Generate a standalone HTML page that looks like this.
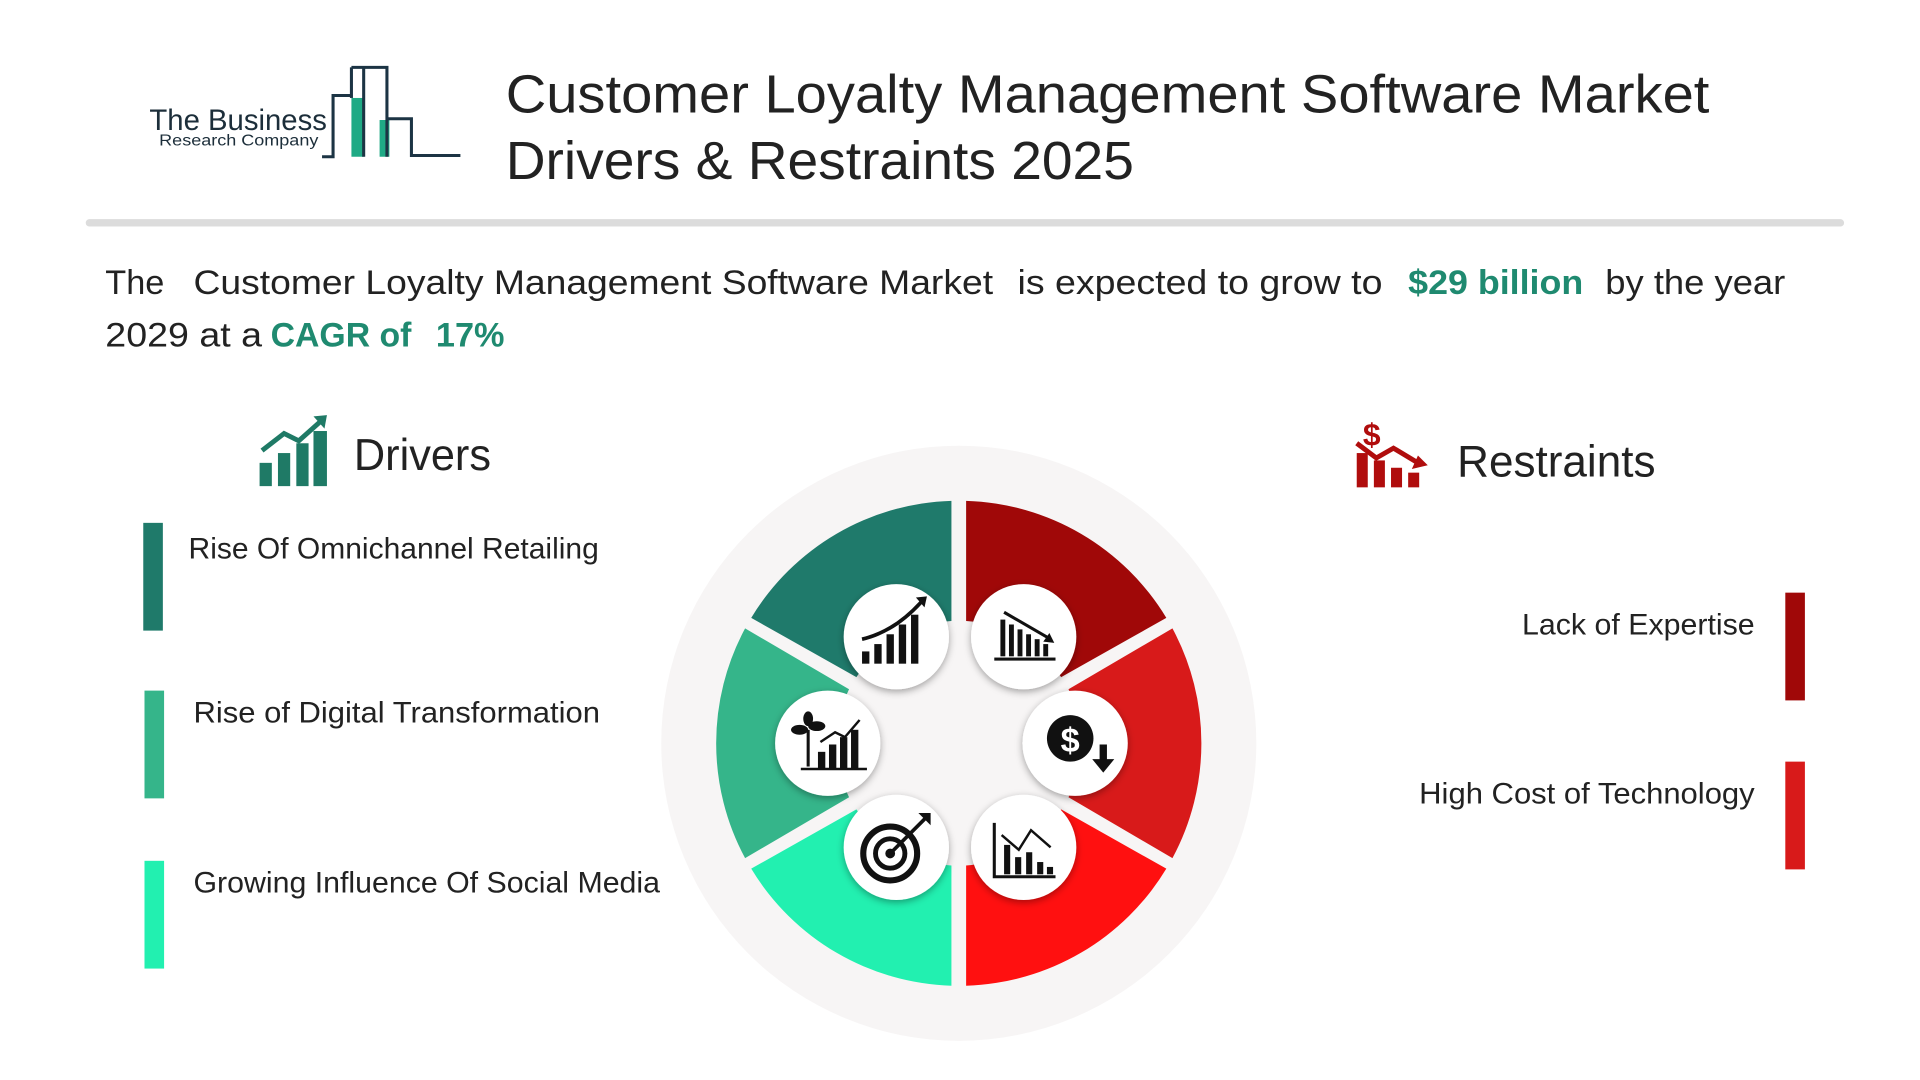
<!DOCTYPE html>
<html><head><meta charset="utf-8"><style>
html,body{margin:0;padding:0;background:#fff;width:1920px;height:1080px;overflow:hidden}
svg{display:block}
text{font-family:"Liberation Sans",Arial,sans-serif}
</style></head><body>
<svg width="1920" height="1080" viewBox="0 0 1568 882" xmlns="http://www.w3.org/2000/svg">
<defs>
<filter id="sh" x="-30%" y="-30%" width="160%" height="160%"><feDropShadow dx="0" dy="2" stdDeviation="3" flood-color="#000" flood-opacity="0.35"/></filter>
</defs>
<rect width="1568" height="882" fill="#fff"/>
<!-- logo -->
<text x="122" y="106" font-size="24" fill="#1c2e3a" textLength="145" lengthAdjust="spacingAndGlyphs">The Business</text>
<text x="130" y="119" font-size="12.5" fill="#1c2e3a" textLength="130" lengthAdjust="spacingAndGlyphs">Research Company</text>
<rect x="287" y="80" width="10" height="48" fill="#1faa85"/>
<rect x="310" y="98" width="8" height="30" fill="#1faa85"/>
<path d="M263 128 H272 V78 H287 M287 55 H316 V128 M297 55 V128 M316 97 H336 V127 H376" fill="none" stroke="#1c3444" stroke-width="2.5"/>
<path d="M287 55 V80" stroke="#1c3444" stroke-width="2.5"/>
<!-- title -->
<text x="413" y="92" font-size="44" fill="#222" textLength="983" lengthAdjust="spacingAndGlyphs">Customer Loyalty Management Software Market</text>
<text x="413" y="146" font-size="44" fill="#222" textLength="513" lengthAdjust="spacingAndGlyphs">Drivers &amp; Restraints 2025</text>
<rect x="70" y="179" width="1436" height="6" rx="3" fill="#dcdcdc"/>
<!-- paragraph -->
<text y="240" font-size="28" fill="#222"><tspan x="86">The</tspan></text>
<text x="158" y="240" font-size="28" fill="#222" textLength="653" lengthAdjust="spacingAndGlyphs">Customer Loyalty Management Software Market</text>
<text x="831" y="240" font-size="28" fill="#222" textLength="298" lengthAdjust="spacingAndGlyphs">is expected to grow to</text>
<text x="1150" y="240" font-size="28" fill="#1f8a70" font-weight="bold" textLength="143" lengthAdjust="spacingAndGlyphs">$29 billion</text>
<text x="1311" y="240" font-size="28" fill="#222" textLength="147" lengthAdjust="spacingAndGlyphs">by the year</text>
<text x="86" y="283" font-size="28" fill="#222" textLength="128" lengthAdjust="spacingAndGlyphs">2029 at a</text>
<text x="221" y="283" font-size="28" fill="#1f8a70" font-weight="bold" textLength="115" lengthAdjust="spacingAndGlyphs">CAGR of</text>
<text x="356" y="283" font-size="28" fill="#1f8a70" font-weight="bold" textLength="56" lengthAdjust="spacingAndGlyphs">17%</text>
<!-- drivers heading -->
<g fill="#1f7a66">
<rect x="212" y="378" width="10" height="19"/><rect x="227" y="370" width="10" height="27"/><rect x="242" y="362" width="10" height="35"/><rect x="256" y="352" width="11" height="45"/>
<path d="M214 368 L232 354 L244 360 L262 344" fill="none" stroke="#1f7a66" stroke-width="4"/>
<path d="M256 340 L267 339 L265 350 Z"/>
</g>
<text x="289" y="384" font-size="36" fill="#222" textLength="112" lengthAdjust="spacingAndGlyphs">Drivers</text>
<!-- restraints heading -->
<g fill="#b00d0d">
<text x="1113" y="364" font-size="26" font-weight="bold" fill="#b00d0d">$</text>
<rect x="1108" y="370" width="9" height="28"/><rect x="1122" y="376" width="9" height="22"/><rect x="1136" y="382" width="9" height="16"/><rect x="1150" y="386" width="9" height="12"/>
<path d="M1108 362 L1124 374 L1138 366 L1158 378" fill="none" stroke="#b00d0d" stroke-width="4"/>
<path d="M1166 380 L1153 383 L1158 372 Z"/>
</g>
<text x="1190" y="389" font-size="36" fill="#222" textLength="162" lengthAdjust="spacingAndGlyphs">Restraints</text>
<!-- driver bars -->
<rect x="117" y="427" width="16" height="88" fill="#1f7a6a"/>
<rect x="118" y="564" width="16" height="88" fill="#35b58a"/>
<rect x="118" y="703" width="16" height="88" fill="#22f0b0"/>
<text x="154" y="456" font-size="24" fill="#222" textLength="335" lengthAdjust="spacingAndGlyphs">Rise Of Omnichannel Retailing</text>
<text x="158" y="590" font-size="24" fill="#222" textLength="332" lengthAdjust="spacingAndGlyphs">Rise of Digital Transformation</text>
<text x="158" y="729" font-size="24" fill="#222" textLength="381" lengthAdjust="spacingAndGlyphs">Growing Influence Of Social Media</text>
<!-- restraint bars -->
<rect x="1458" y="484" width="16" height="88" fill="#a00808"/>
<rect x="1458" y="622" width="16" height="88" fill="#d81a1a"/>
<text x="1243" y="518" font-size="24" fill="#222" textLength="190" lengthAdjust="spacingAndGlyphs">Lack of Expertise</text>
<text x="1159" y="656" font-size="24" fill="#222" textLength="274" lengthAdjust="spacingAndGlyphs">High Cost of Technology</text>
<!-- donut -->
<circle cx="783" cy="607" r="243" fill="#f7f5f5"/>
<g transform="translate(783,607)">
<path d="M-6 -198 A198 198 0 0 0 -169.5 -102.4 L-83.6 -54 A100 100 0 0 1 -6 -99.8 Z" fill="#1f7a6b"/>
<path d="M-174.5 -93.8 A198 198 0 0 0 -174.5 93.8 L-89.6 44.1 A100 100 0 0 1 -89.6 -44.1 Z" fill="#35b58a"/>
<path d="M-169.5 102.4 A198 198 0 0 0 -6 198 L-6 99.8 A100 100 0 0 1 -83.6 54 Z" fill="#22f0b0"/>
<path d="M6 -198 A198 198 0 0 1 169.5 -102.4 L83.6 -54 A100 100 0 0 0 6 -99.8 Z" fill="#a00808"/>
<path d="M174.5 -93.8 A198 198 0 0 1 174.5 93.8 L89.6 44.1 A100 100 0 0 0 89.6 -44.1 Z" fill="#d81a1a"/>
<path d="M169.5 102.4 A198 198 0 0 1 6 198 L6 99.8 A100 100 0 0 0 83.6 54 Z" fill="#ff1010"/>
</g>
<g filter="url(#sh)" fill="#fff">
<circle cx="732" cy="520" r="43"/><circle cx="836" cy="520" r="43"/><circle cx="878" cy="607" r="43"/>
<circle cx="836" cy="692" r="43"/><circle cx="732" cy="692" r="43"/><circle cx="676" cy="607" r="43"/>
</g>
<!-- icons -->
<g fill="#111" stroke="none">
<rect x="704" y="532" width="6" height="10"/><rect x="714" y="526" width="6" height="16"/><rect x="724" y="518" width="6" height="24"/><rect x="734" y="510" width="6" height="32"/><rect x="744" y="502" width="6" height="40"/>
<path d="M704 522 Q730 516 752 492" fill="none" stroke="#111" stroke-width="3"/><path d="M748 488 L757 487 L755 496Z"/>
<rect x="817" y="506" width="4" height="30"/><rect x="824" y="510" width="4" height="26"/><rect x="831" y="514" width="4" height="22"/><rect x="838" y="518" width="4" height="18"/><rect x="845" y="522" width="4" height="14"/><rect x="852" y="526" width="4" height="10"/>
<rect x="812" y="537" width="50" height="2.5"/>
<path d="M820 500 L858 522" stroke="#111" stroke-width="2.5"/><path d="M861 525 L852 524 L857 517Z"/>
<circle cx="874" cy="603" r="19"/>
<text x="874" y="614" font-size="28" font-weight="bold" fill="#fff" text-anchor="middle">$</text>
<rect x="898" y="608" width="6" height="14"/><path d="M892 620 L910 620 L901 631Z"/>
<path d="M812 672 V716 H862" fill="none" stroke="#111" stroke-width="2.5"/>
<rect x="820" y="690" width="5" height="24"/><rect x="829" y="700" width="5" height="14"/><rect x="838" y="696" width="5" height="18"/><rect x="847" y="704" width="5" height="10"/><rect x="855" y="708" width="5" height="6"/>
<path d="M818 682 L832 694 L842 678 L858 692" fill="none" stroke="#111" stroke-width="2"/>
<circle cx="727" cy="697" r="22" fill="none" stroke="#111" stroke-width="5"/>
<circle cx="727" cy="697" r="12" fill="none" stroke="#111" stroke-width="4"/>
<circle cx="727" cy="697" r="4"/>
<path d="M727 697 L756 668" stroke="#111" stroke-width="3"/><path d="M750 664 L760 664 L760 674 Z"/>
<path d="M654 628 H708" stroke="#111" stroke-width="2"/>
<rect x="668" y="614" width="6" height="14"/><rect x="677" y="608" width="6" height="20"/><rect x="686" y="602" width="6" height="26"/><rect x="695" y="596" width="6" height="32"/>
<path d="M660 626 V596" stroke="#111" stroke-width="2.5"/>
<ellipse cx="653" cy="596" rx="7" ry="4"/><ellipse cx="667" cy="593" rx="7" ry="4"/><ellipse cx="660" cy="587" rx="4" ry="6"/>
<path d="M670 606 L682 598 L690 602 L702 588" fill="none" stroke="#111" stroke-width="2"/>
</g>
</svg>
</body></html>
